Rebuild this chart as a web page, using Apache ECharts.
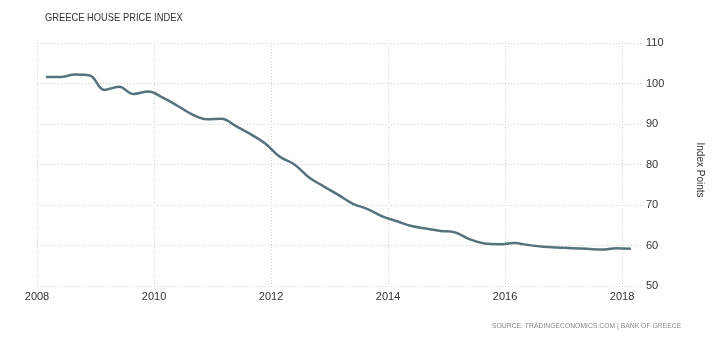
<!DOCTYPE html>
<html>
<head>
<meta charset="utf-8">
<script src="https://cdn.jsdelivr.net/npm/echarts@6/dist/echarts.min.js"></script>
<style>
  html, body { margin: 0; padding: 0; background: #fff; }
  #chart { width: 726px; height: 340px; }
</style>
</head>
<body>
<div id="chart"></div>
<script>
// Greece house price index, quarterly, Q1 2008 – Q1 2018
const startYear = 2008;
const quarterOffset = 0.15; // plotted position of a quarter within its year
const priceIndex = [
  101.6, 101.6, 102.2, 102.0, 98.4, 99.2, 97.4, 98.0,
  96.5, 94.5, 92.4, 91.2, 91.3, 89.5, 87.5, 85.2,
  81.9, 80.0, 76.8, 74.6, 72.5, 70.3, 69.0, 67.2,
  66.0, 64.8, 64.2, 63.6, 63.2, 61.5, 60.5, 60.3,
  60.6, 60.1, 59.7, 59.5, 59.3, 59.2, 59.0, 59.3,
  59.2
];
const yearTicks = [2008, 2010, 2012, 2014, 2016, 2018];
const valueTicks = [50, 60, 70, 80, 90, 100, 110];

const titleText = 'GREECE HOUSE PRICE INDEX';
const sourceText = 'SOURCE: TRADINGECONOMICS.COM | BANK OF GREECE';
const unitText = 'Index Points';

const points = priceIndex.map((v, i) => [startYear + quarterOffset + i * 0.25, v]);

const gridDots = { color: '#cfcfcf', type: [1, 2], width: 1 };
const labelFont = 'Liberation Sans, Arial, sans-serif';

const chart = echarts.init(document.getElementById('chart'), null, { renderer: 'canvas' });
chart.setOption({
  backgroundColor: '#ffffff',
  animation: false,
  graphic: [
    {
      // chart title, set in a condensed cut
      type: 'text',
      x: 45,
      y: 18,
      scaleX: 0.85,
      style: {
        text: titleText,
        font: '11px "Liberation Sans", Arial, sans-serif',
        fill: '#333',
        textVerticalAlign: 'middle'
      }
    },
    {
      // unit label beside the value axis
      type: 'text',
      x: 700,
      y: 170,
      rotation: -Math.PI / 2,
      style: {
        text: unitText,
        font: '10px "Liberation Sans", Arial, sans-serif',
        fill: '#333',
        textAlign: 'center',
        textVerticalAlign: 'middle'
      }
    },
    {
      // source line
      type: 'text',
      x: 492,
      y: 326,
      scaleX: 0.85,
      style: {
        text: sourceText,
        font: '8px "Liberation Sans", Arial, sans-serif',
        fill: '#888',
        textVerticalAlign: 'middle'
      }
    }
  ],
  grid: { left: 37, right: 84, top: 43, bottom: 54 },
  xAxis: {
    type: 'value',
    min: yearTicks[0],
    max: 2018.34,
    interval: 2,
    axisLine: { show: false },
    axisTick: { show: false },
    axisLabel: {
      showMaxLabel: false,
      margin: 5,
      fontFamily: labelFont,
      fontSize: 11,
      color: '#333',
      formatter: v => (yearTicks.indexOf(v) >= 0 ? String(v) : '')
    },
    splitLine: { show: true, showMaxLine: false, lineStyle: gridDots }
  },
  yAxis: {
    type: 'value',
    position: 'right',
    min: valueTicks[0],
    max: valueTicks[valueTicks.length - 1],
    interval: 10,
    axisLine: { show: false },
    axisTick: { show: false },
    axisLabel: {
      margin: 4,
      fontFamily: labelFont,
      fontSize: 11,
      color: '#333'
    },
    splitLine: { show: true, lineStyle: gridDots }
  },
  series: [{
    type: 'line',
    data: points,
    smooth: 0.4,
    showSymbol: false,
    lineStyle: { color: '#55737d', width: 2.5 },
    itemStyle: { color: '#55737d' }
  }]
});
</script>
</body>
</html>
